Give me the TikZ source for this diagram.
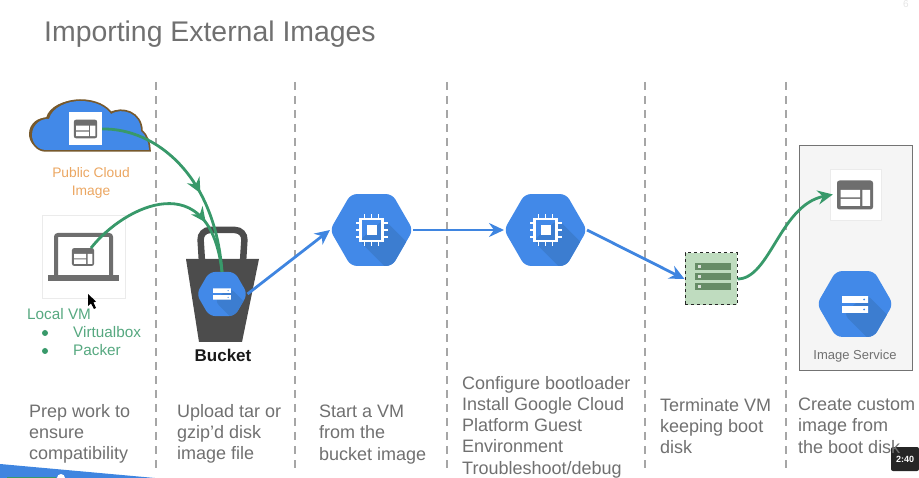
\documentclass[tikz,border=0pt]{standalone}
\usepackage{fontspec}
\setmainfont{Liberation Sans}
\usetikzlibrary{calc}
\usetikzlibrary{positioning}
\usetikzlibrary{arrows.meta}
\usetikzlibrary{shapes.geometric}
\usetikzlibrary{decorations.markings}
\definecolor{hexBlue}{HTML}{4289E8}
\definecolor{hexShade}{HTML}{3C7DD0}
\definecolor{arrowBlue}{HTML}{3F85E0}
\definecolor{arrowGreen}{HTML}{38996A}
\definecolor{textGray}{HTML}{707070}
\definecolor{iconGray}{HTML}{6E6E6E}
\definecolor{cloudBrown}{HTML}{77592C}
\tikzset{
  stepText/.style={anchor=north west,align=left,text=textGray,inner sep=0pt,font=\fontsize{18}{21.2}\selectfont},
  hexNode/.style={regular polygon,regular polygon sides=6,minimum size=#1,inner sep=0pt,outer sep=0pt,
    fill=hexBlue,rounded corners=6pt,
    path picture={
      \fill[hexShade] ($(path picture bounding box.center)!.3!(path picture bounding box.north east)$)
        -- ++(60,60) -- ($(path picture bounding box.center)!.3!(path picture bounding box.south west)+(60,60)$)
        -- ($(path picture bounding box.center)!.3!(path picture bounding box.south west)$) -- cycle;
    }},
  tileNode/.style={draw=black!8,fill=white,inner sep=0pt,minimum size=#1},
  divider/.style={draw=black!35,line width=1.8pt,dash pattern=on 8pt off 6pt},
  blueFlow/.style={draw=arrowBlue,line width=2.8pt,-{Stealth[length=15pt,width=14pt,inset=5pt]}},
  greenFlow/.style={draw=arrowGreen,line width=2.8pt,-{Stealth[length=15pt,width=14pt,inset=5pt]}},
  greenMid/.style={draw=arrowGreen,line width=2.8pt,postaction={decorate},decoration={markings,
    mark=at position #1 with {\arrow[arrowGreen]{Stealth[length=15pt,width=14pt,inset=5pt]}}}},
  chipicon/.pic={
    \draw[white,line width=2.5pt] (-11,-11) rectangle (11,11);
    \fill[white] (-5,-5) rectangle (5,5);
    \foreach \p in {-7,0,7}{
      \draw[white,line width=1.8pt] (\p,-11) -- (\p,-16) (\p,11) -- (\p,16) (-11,\p) -- (-16,\p) (11,\p) -- (16,\p);
    }
  },
  diskicon/.pic={
    \fill[white] (-13,-8.3) rectangle (13,-1.7) (-13,1.7) rectangle (13,8.3);
    \fill[hexBlue] (9,-5) circle (1) (9,5) circle (1);
  },
  imageicon/.pic={
    \fill[iconGray,rounded corners=2.5pt] (-18,-14.5) rectangle (18,14.5);
    \fill[white] (-14.3,-5) rectangle (5,2.3) (-14.3,4) rectangle (5,11) (7.3,-5) rectangle (15,11);
  }
}
\newcommand{\cloudshape}{(46,150) .. controls (37,150) and (32,142) .. (32,135) .. controls (32,124) and (42,118) .. (49,119)
  .. controls (52,107) and (68,101) .. (80,101) .. controls (96,101) and (106,107) .. (111,114)
  .. controls (122,107) and (141,113) .. (141,131) .. controls (146,135) and (149,143) .. (149,150) -- cycle}
\begin{document}
\begin{tikzpicture}[x=1pt,y=-1pt]
\useasboundingbox (0,0) rectangle (919,478);
% Title and the dashed dividers
\node[anchor=west,inner sep=0pt,text=textGray,font=\fontsize{28.4}{32}\selectfont] (title) at (44,34) {Importing External Images};
\node[text=black!10,font=\fontsize{10}{12}\selectfont] (pagenum) at (906,4) {6};
\foreach \x in {156,295,447,645,786}{
  \draw[divider] (\x,82) -- (\x,470);
}
% Bottom corner of the player
\fill[arrowBlue] (0,464) -- (155,478) -- (0,478) -- cycle;
\fill[white] (61,478) circle (4);
\fill[arrowGreen] (7,477) rectangle (56,478);
\node[fill=black!85,text=white,rounded corners=2pt,minimum width=28pt,minimum height=24pt,inner sep=0pt,
  font=\bfseries\fontsize{9}{10}\selectfont] (timecode) at (905,459) {2:40};
% Public cloud
\fill[cloudBrown,shift={(-3,-1)}] \cloudshape;
\draw[cloudBrown,line width=3.5pt] \cloudshape;
\fill[hexBlue] \cloudshape;
\node[tileNode=33pt,draw=none] (cloudTile) at (85.5,129) {};
\pic[scale=.65] at (85.5,129) {imageicon};
\node[text=orange!55!brown!70!white,align=center,font=\fontsize{13.8}{18}\selectfont] (cloudLabel) at (91,183) {Public Cloud\\Image};
% Local VM
\node[tileNode=83pt] (vmCard) at (83.5,256.5) {};
\draw[iconGray,line width=4pt,rounded corners=2pt] (56,275) -- (56,235) -- (111,235) -- (111,275);
\fill[iconGray] (48,275) rectangle (119,281);
\fill[white] (68,243) rectangle (99,273);
\pic[scale=.62] at (83,257) {imageicon};
\coordinate (vmOut) at (91,248);
\fill[black] (88,294) -- (88,306) -- (91,303.5) -- (94,309) -- (96,308) -- (93.5,302.5) -- (96,301.5) -- cycle;
\node[anchor=west,inner sep=0pt,text=arrowGreen!85!white,font=\fontsize{15.3}{18}\selectfont] (vmLabel) at (27,314) {Local VM};
\node[circle,fill=arrowGreen,inner sep=0pt,minimum size=6pt] (bulletA) at (45,333) {};
\node[circle,fill=arrowGreen,inner sep=0pt,minimum size=6pt] (bulletB) at (45,351) {};
\node[anchor=west,inner sep=0pt,text=arrowGreen!85!white,font=\fontsize{15.3}{18}\selectfont] (vboxLabel) at (73,332) {Virtualbox};
\node[anchor=west,inner sep=0pt,text=arrowGreen!85!white,font=\fontsize{15.3}{18}\selectfont] (packerLabel) at (73,350) {Packer};
% Bucket
\draw[black!70,line width=6.5pt,rounded corners=10pt] (202,262) -- (200,230) -- (245,230) -- (243,262);
\fill[black!70] (186,259) -- (259,259) -- (242,342) -- (199,342) -- cycle;
\node[hexNode=51pt] (bucketHex) at (222,294) {};
\pic[scale=.68] at (222,294) {diskicon};
\node[font=\bfseries\fontsize{17}{18}\selectfont,text=black!90] (bucketLabel) at (223,355) {Bucket};
% Two VM steps
\node[hexNode=83pt] (vmHexA) at (371.5,230) {};
\pic at (371.5,230) {chipicon};
\node[hexNode=83pt] (vmHexB) at (545.5,230) {};
\pic at (545.5,230) {chipicon};
% Boot disk
\node[draw=black!85,fill=green!45!black!25,dashed,line width=1pt,minimum size=52pt,inner sep=0pt] (diskTile) at (711,279) {};
\foreach \y in {267,277,287}{
  \fill[green!25!black!60] (695,\y-3.5) rectangle (731,\y+3.5);
  \fill[green!15!black!15] (698,\y-1.5) rectangle (701,\y+1.5);
}
% Image service
\node[draw=black!55,fill=black!4,line width=1pt,minimum width=113pt,minimum height=225pt,inner sep=0pt] (servicePanel) at (855.5,258.5) {};
\node[tileNode=51pt] (serviceTile) at (855.5,194.5) {};
\pic at (855,195) {imageicon};
\node[hexNode=76pt] (serviceHex) at (855,304) {};
\pic at (855,304.5) {diskicon};
\node[text=textGray,font=\fontsize{13}{15}\selectfont] (serviceLabel) at (855,356) {Image Service};
% Connectors
\draw[greenMid=.6] (cloudTile.east) .. controls (155,128) and (215,175) .. (bucketHex.north);
\draw[greenMid=.72] (vmOut) .. controls (125,205) and (210,165) .. (bucketHex.north);
\draw[blueFlow] (bucketHex.east) -- (vmHexA.west);
\draw[blueFlow] (vmHexA.east) -- (vmHexB.west);
\draw[blueFlow] (vmHexB.east) -- (diskTile.west);
\draw[greenFlow] (diskTile.east) .. controls (770,279) and (780,205) .. ($(serviceTile.west)+(3,0)$);
% Step captions
\node[stepText] (stepA) at (29,404) {Prep work to\\ensure\\compatibility};
\node[stepText] (stepB) at (177,404) {Upload tar or\\gzip'd disk\\image file};
\node[stepText] (stepC) at (319,405) {Start a VM\\from the\\bucket image};
\node[stepText] (stepD) at (462,376) {Configure bootloader\\Install Google Cloud\\Platform Guest\\Environment\\Troubleshoot/debug};
\node[stepText] (stepE) at (660,398) {Terminate VM\\keeping boot\\disk};
\node[stepText] (stepF) at (798,398) {Create custom\\image from\\the boot disk};
\end{tikzpicture}
\end{document}
